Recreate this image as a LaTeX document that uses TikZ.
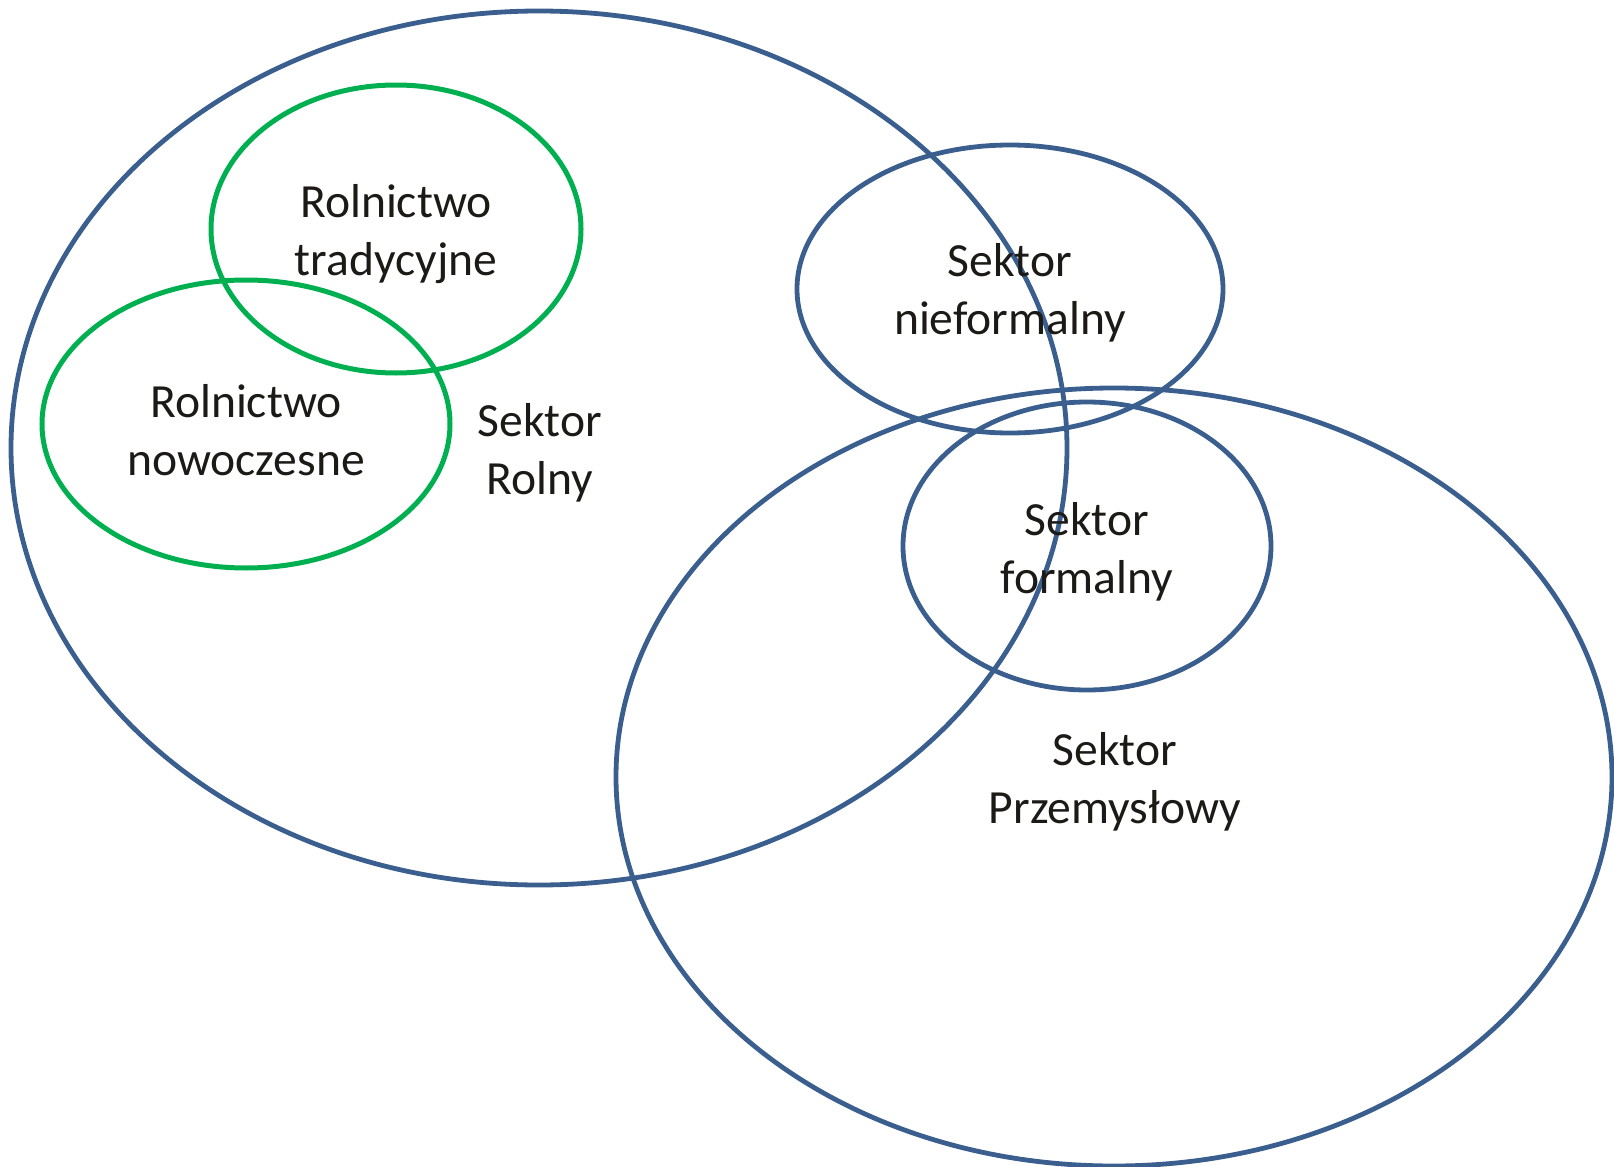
\documentclass[tikz,border=0pt]{standalone}
\usepackage{fontspec}
\setmainfont{Carlito}
\definecolor{sblue}{HTML}{3A5F8E}
\definecolor{sgreen}{HTML}{00B050}
\definecolor{stext}{HTML}{1C1A17}
\tikzset{
  blueset/.style={draw=sblue, line width=2.4pt},
  greenset/.style={draw=sgreen, line width=2.5pt},
  lbl/.style={align=center, text=stext, inner sep=0pt, font=\fontsize{23.8}{28.8}\selectfont}
}
\begin{document}
\begin{tikzpicture}[x=0.5pt,y=-0.5pt]
\useasboundingbox (0,0) rectangle (1614,1167);
% ellipses
\draw[blueset] (539,448) ellipse [x radius=528, y radius=437];
\draw[blueset] (1114,777) ellipse [x radius=498, y radius=389];
\draw[greenset] (396,229) ellipse [x radius=185, y radius=144];
\draw[greenset] (246,424) ellipse [x radius=204, y radius=144];
\draw[blueset] (1010,289) ellipse [x radius=213, y radius=144];
\draw[blueset] (1087,546) ellipse [x radius=184, y radius=144];
% labels
\node[lbl] (trad) at (396,234) {Rolnictwo\\tradycyjne};
\node[lbl] (nowo) at (246,430) {Rolnictwo\\nowoczesne};
\node[lbl] (rolny) at (540,453) {Sektor\\Rolny};
\node[lbl] (niefor) at (1010,293) {Sektor\\nieformalny};
\node[lbl] (formal) at (1087,552) {Sektor\\formalny};
\node[lbl] (przem) at (1115,782) {Sektor\\Przemysłowy};
\end{tikzpicture}
\end{document}
